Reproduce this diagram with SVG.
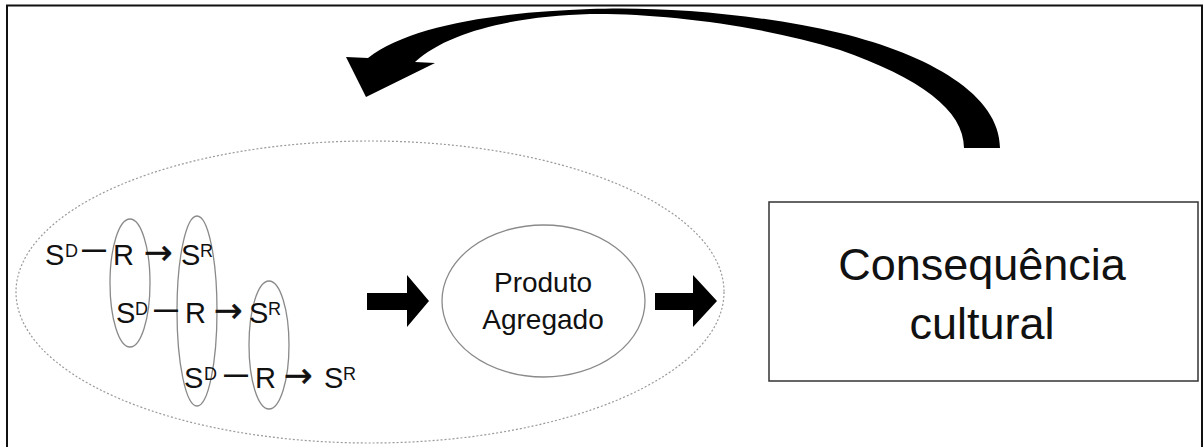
<svg xmlns="http://www.w3.org/2000/svg" width="1203" height="447" viewBox="0 0 1203 447">
<style>
.t{font-family:"Liberation Sans",Arial,sans-serif;fill:#111;}
.m{font-size:29px;}
.s{font-size:18px;}
.dash{font-family:"Liberation Sans",Arial,sans-serif;font-size:24px;font-weight:bold;fill:#111;}
.arr{font-family:"DejaVu Sans",sans-serif;font-size:34px;fill:#111;stroke:#111;stroke-width:0.6;}
.oval{fill:none;stroke:#8a8a8a;stroke-width:1.3;}
.blk{fill:#000;}
</style>
<rect width="1203" height="447" fill="#fff"/>
<g id="frame" stroke="#111" stroke-width="2" fill="none">
<path d="M7,447 V5.5 H1202 V447"/>
</g>
<g id="group-ellipse">
<ellipse cx="370" cy="292" rx="354" ry="151" fill="none" stroke="#9a9a9a" stroke-width="1.2" stroke-dasharray="2 2"/>
</g>
<g id="contingencies">
<ellipse class="oval" cx="130" cy="283" rx="20" ry="64"/>
<ellipse class="oval" cx="197" cy="311" rx="20" ry="95"/>
<ellipse class="oval" cx="269" cy="345" rx="20" ry="64"/>
<g id="row1">
<text class="t m" x="45" y="265">S</text><text class="t s" x="65" y="257">D</text>
<text class="dash" x="82" y="257">—</text>
<text class="t m" x="113" y="265">R</text>
<text class="arr" x="144" y="264">→</text>
<text class="t m" x="181" y="265">S</text><text class="t s" x="200" y="257">R</text>
</g>
<g id="row2">
<text class="t m" x="116" y="323">S</text><text class="t s" x="135" y="315">D</text>
<text class="dash" x="154" y="317">—</text>
<text class="t m" x="185" y="323">R</text>
<text class="arr" x="214" y="322">→</text>
<text class="t m" x="249" y="323">S</text><text class="t s" x="268" y="315">R</text>
</g>
<g id="row3">
<text class="t m" x="184" y="388">S</text><text class="t s" x="204" y="380">D</text>
<text class="dash" x="224" y="382">—</text>
<text class="t m" x="255" y="388">R</text>
<text class="arr" x="284" y="387">→</text>
<text class="t m" x="324" y="388">S</text><text class="t s" x="343" y="380">R</text>
</g>
</g>
<g id="produto">
<ellipse class="oval" cx="543.5" cy="301" rx="101.5" ry="76"/>
<text class="t" font-size="28" x="543" y="292" text-anchor="middle">Produto</text>
<text class="t" font-size="28" x="543" y="329" text-anchor="middle">Agregado</text>
</g>
<g id="consequencia">
<rect x="769" y="202" width="429" height="179" fill="#fff" stroke="#333" stroke-width="1.5"/>
<text class="t" font-size="45" x="982" y="280" text-anchor="middle">Consequência</text>
<text class="t" font-size="45" x="982" y="339" text-anchor="middle">cultural</text>
</g>
<g id="connectors">
<path class="blk" d="M367,293 L407,293 L407,275 L429,301 L407,327 L407,310 L367,310 Z"/>
<path class="blk" d="M655,293 L693,293 L693,275 L717,301 L693,327 L693,310 L655,310 Z"/>
<path class="blk" d="M1000,148 C1000,95 930,55 840,33 C760,14 660,6 590,9 C500,12 410,25 368,58 L346,57 L366,97 L435,63 L415,62 C450,30 520,16 590,14 C660,13 760,25 840,50 C920,78 964,110 964,148 Z"/>
</g>
</svg>
